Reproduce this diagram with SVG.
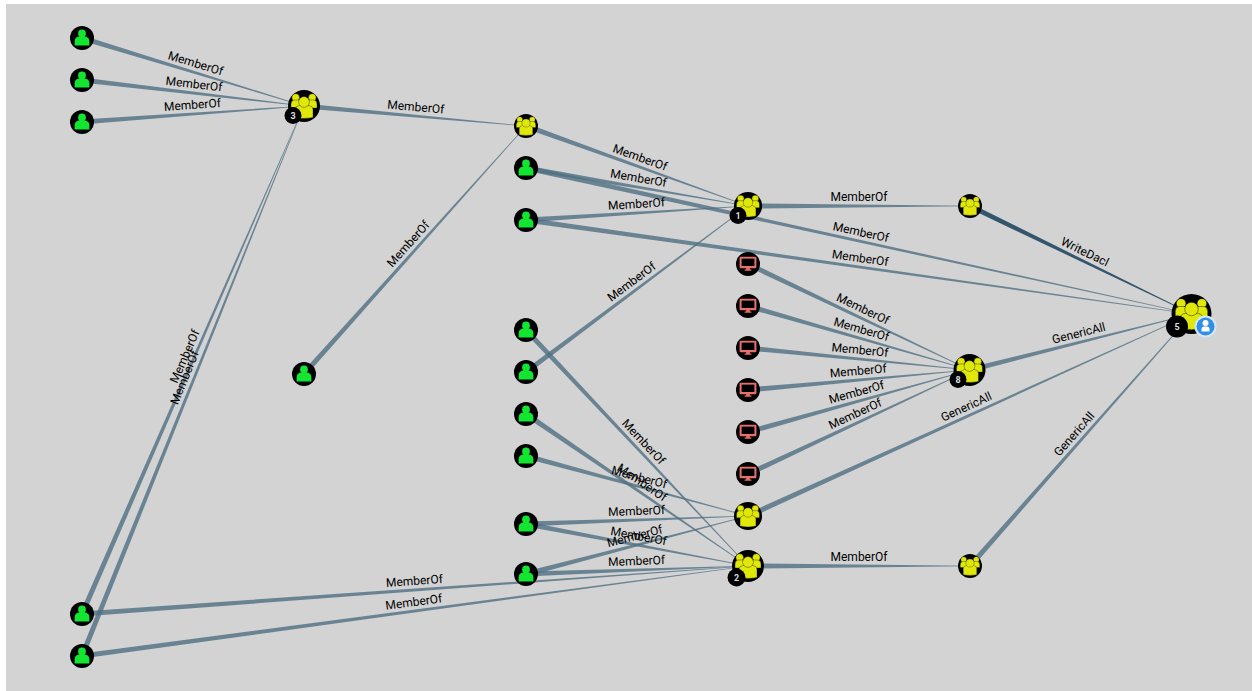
<svg xmlns="http://www.w3.org/2000/svg" xmlns:xlink="http://www.w3.org/1999/xlink" width="1252" height="691" viewBox="0 0 1252 691">
<style>
.e{fill:#4f6f82;fill-opacity:.8}
.d{fill:#34566c}
.l{font:12px Roboto,"Liberation Sans",sans-serif;fill:#000;text-anchor:middle}
.b{fill:#000}
.u{fill:#12e630}
.g{fill:#e0e80a;stroke:#000;stroke-width:.35}
.c{fill:#e8706a}
.n{font:bold 9px Roboto,"Liberation Sans",sans-serif;fill:#ddd;text-anchor:middle}
</style>
<defs>
<g id="user"><circle r="12" class="b"/><circle cy="-4.6" r="3.9" class="u"/><path class="u" d="M-7.4 7v-3.4q0-4.6 4.6-5h5.6q4.6.4 4.6 5V7q0 .6-.6.6H-6.8q-.6 0-.6-.6z"/></g>
<g id="comp"><circle r="12" class="b"/><rect x="-8.4" y="-7.2" width="16.8" height="11.4" rx="1.2" class="c"/><rect x="-6.4" y="-5.4" width="12.8" height="7.4" class="b"/><path class="c" d="M-1.8 4h3.6v1.4h1.6v1.4h-6.800v-1.400h1.600z"/></g>
<g id="grp"><circle r="16" class="b"/><circle cx="-8.300" cy="-8.500" r="3.800" class="g"/><circle cx="8.300" cy="-8.500" r="3.800" class="g"/><path class="g" d="M-13 2v-4q0-3.500 3-4h5l3 6v2zM13 2v-4q0-3.500-3-4h-5l-3 6v2z"/><path class="g" d="M-9 11.500v-8q0-3.500 4-4h10q4 .5 4 4v8q-9 2-18 0z"/><circle cy="-4" r="5.400" class="g"/></g>
</defs>
<rect width="1252" height="691" fill="#fff"/>
<rect x="6" y="4" width="1246" height="687" fill="#d3d3d3"/>
<g id="connectors">
<polygon class="e" points="81.24,40.49 303.93,106.24 304.07,105.76 82.76,35.51"/>
<polygon class="e" points="81.7,82.58 303.97,106.24 304.03,105.76 82.3,77.42"/>
<polygon class="e" points="82.19,124.59 304.02,106.24 303.98,105.76 81.81,119.41"/>
<polygon class="e" points="303.77,108.59 525.98,126.24 526.02,125.76 304.23,103.41"/>
<polygon class="e" points="305.94,375.73 526.18,126.16 525.82,125.84 302.06,372.27"/>
<polygon class="e" points="525.12,128.45 747.92,206.23 748.08,205.77 526.88,123.55"/>
<polygon class="e" points="525.56,170.56 747.96,206.24 748.04,205.76 526.44,165.44"/>
<polygon class="e" points="526.16,222.59 748.02,206.24 747.98,205.76 525.84,217.41"/>
<polygon class="e" points="527.56,374.08 748.14,206.19 747.86,205.81 524.44,369.92"/>
<polygon class="e" points="748,208.6 970,206.24 970,205.76 748,203.4"/>
<polygon class="e" points="525.44,170.54 1191.95,314.24 1192.05,313.76 526.56,165.46"/>
<polygon class="e" points="525.64,222.57 1191.97,314.24 1192.03,313.76 526.36,217.43"/>
<polygon class="d" points="968.86,208.34 1191.9,314.22 1192.1,313.78 971.14,203.66"/>
<polygon class="e" points="746.88,266.35 969.9,370.22 970.1,369.78 749.12,261.65"/>
<polygon class="e" points="747.28,308.5 969.93,370.23 970.07,369.77 748.72,303.5"/>
<polygon class="e" points="747.74,350.59 969.98,370.24 970.02,369.76 748.26,345.41"/>
<polygon class="e" points="748.23,392.59 970.02,370.24 969.98,369.76 747.77,387.41"/>
<polygon class="e" points="748.7,434.5 970.06,370.23 969.94,369.77 747.3,429.5"/>
<polygon class="e" points="749.1,476.35 970.1,370.22 969.9,369.78 746.9,471.65"/>
<polygon class="e" points="970.64,372.52 1192.06,314.23 1191.94,313.77 969.36,367.48"/>
<polygon class="e" points="749.08,518.37 1192.1,314.22 1191.9,313.78 746.92,513.63"/>
<polygon class="e" points="971.95,567.72 1192.18,314.16 1191.82,313.84 968.05,564.28"/>
<polygon class="e" points="748,568.6 970,566.24 970,565.76 748,563.4"/>
<polygon class="e" points="524.11,331.78 747.83,566.16 748.17,565.84 527.89,328.22"/>
<polygon class="e" points="524.53,416.15 747.86,566.2 748.14,565.8 527.47,411.85"/>
<polygon class="e" points="525.32,458.51 747.94,516.23 748.06,515.77 526.68,453.49"/>
<polygon class="e" points="526.09,526.6 748.01,516.24 747.99,515.76 525.91,521.4"/>
<polygon class="e" points="525.52,526.56 747.96,566.24 748.04,565.76 526.48,521.44"/>
<polygon class="e" points="526.66,576.51 748.06,516.23 747.94,515.77 525.34,571.49"/>
<polygon class="e" points="526.09,576.6 748.01,566.24 747.99,565.76 525.91,571.4"/>
<polygon class="e" points="82.19,616.59 748.02,566.24 747.98,565.76 81.81,611.41"/>
<polygon class="e" points="82.35,658.58 748.03,566.24 747.97,565.76 81.65,653.42"/>
<polygon class="e" points="84.38,615.04 304.22,106.1 303.78,105.9 79.62,612.96"/>
<polygon class="e" points="84.41,656.97 304.22,106.09 303.78,105.91 79.59,655.03"/>
</g>
<g id="edge-labels">
<text class="l" y="-5" transform="translate(193,72) rotate(17)">MemberOf</text>
<text class="l" y="-5" transform="translate(193,93) rotate(6.700)">MemberOf</text>
<text class="l" y="-5" transform="translate(193,114) rotate(-4.100)">MemberOf</text>
<text class="l" y="-5" transform="translate(415,116) rotate(5.100)">MemberOf</text>
<text class="l" y="-5" transform="translate(415,250) rotate(-48.200)">MemberOf</text>
<text class="l" y="-5" transform="translate(637,166) rotate(19.800)">MemberOf</text>
<text class="l" y="-5" transform="translate(637,187) rotate(9.700)">MemberOf</text>
<text class="l" y="-5" transform="translate(637,213) rotate(-3.600)">MemberOf</text>
<text class="l" y="-5" transform="translate(637,289) rotate(-36.800)">MemberOf</text>
<text class="l" y="-5" transform="translate(859,206)">MemberOf</text>
<text class="l" y="-5" transform="translate(859,241) rotate(12.400)">MemberOf</text>
<text class="l" y="-5" transform="translate(859,267) rotate(8)">MemberOf</text>
<text class="l" y="-5" transform="translate(1081,260) rotate(25.900)">WriteDacl</text>
<text class="l" y="-5" transform="translate(859,317) rotate(25.500)">MemberOf</text>
<text class="l" y="-5" transform="translate(859,338) rotate(16.100)">MemberOf</text>
<text class="l" y="-5" transform="translate(859,359) rotate(5.700)">MemberOf</text>
<text class="l" y="-5" transform="translate(859,380) rotate(-5.100)">MemberOf</text>
<text class="l" y="-5" transform="translate(859,401) rotate(-15.600)">MemberOf</text>
<text class="l" y="-5" transform="translate(859,422) rotate(-25.100)">MemberOf</text>
<text class="l" y="-5" transform="translate(1081,342) rotate(-14.200)">GenericAll</text>
<text class="l" y="-5" transform="translate(970,415) rotate(-24.500)">GenericAll</text>
<text class="l" y="-5" transform="translate(1081,440) rotate(-48.600)">GenericAll</text>
<text class="l" y="-5" transform="translate(859,566)">MemberOf</text>
<text class="l" y="-5" transform="translate(637,448) rotate(46.800)">MemberOf</text>
<text class="l" y="-5" transform="translate(637,490) rotate(34.400)">MemberOf</text>
<text class="l" y="-5" transform="translate(637,486) rotate(15.100)">MemberOf</text>
<text class="l" y="-5" transform="translate(637,520) rotate(-2.100)">MemberOf</text>
<text class="l" y="-5" transform="translate(637,545) rotate(10.700)">MemberOf</text>
<text class="l" y="-5" transform="translate(637,545) rotate(-14.600)">MemberOf</text>
<text class="l" y="-5" transform="translate(637,570) rotate(-2.100)">MemberOf</text>
<text class="l" y="-5" transform="translate(415,590) rotate(-4.100)">MemberOf</text>
<text class="l" y="-5" transform="translate(415,611) rotate(-7.700)">MemberOf</text>
<text class="l" y="-5" transform="translate(193,360) rotate(-66.400)">MemberOf</text>
<text class="l" y="-5" transform="translate(193,381) rotate(-68)">MemberOf</text>
</g>
<g id="u1"><use xlink:href="#user" href="#user" x="82" y="38"/></g>
<g id="u2"><use xlink:href="#user" href="#user" x="82" y="80"/></g>
<g id="u3"><use xlink:href="#user" href="#user" x="82" y="122"/></g>
<g id="u4"><use xlink:href="#user" href="#user" x="526" y="168"/></g>
<g id="u5"><use xlink:href="#user" href="#user" x="526" y="220"/></g>
<g id="u6"><use xlink:href="#user" href="#user" x="304" y="374"/></g>
<g id="u7"><use xlink:href="#user" href="#user" x="526" y="330"/></g>
<g id="u8"><use xlink:href="#user" href="#user" x="526" y="372"/></g>
<g id="u9"><use xlink:href="#user" href="#user" x="526" y="414"/></g>
<g id="u10"><use xlink:href="#user" href="#user" x="526" y="456"/></g>
<g id="u11"><use xlink:href="#user" href="#user" x="526" y="524"/></g>
<g id="u12"><use xlink:href="#user" href="#user" x="526" y="574"/></g>
<g id="u13"><use xlink:href="#user" href="#user" x="82" y="614"/></g>
<g id="u14"><use xlink:href="#user" href="#user" x="82" y="656"/></g>
<g id="c1"><use xlink:href="#comp" href="#comp" x="748" y="264"/></g>
<g id="c2"><use xlink:href="#comp" href="#comp" x="748" y="306"/></g>
<g id="c3"><use xlink:href="#comp" href="#comp" x="748" y="348"/></g>
<g id="c4"><use xlink:href="#comp" href="#comp" x="748" y="390"/></g>
<g id="c5"><use xlink:href="#comp" href="#comp" x="748" y="432"/></g>
<g id="c6"><use xlink:href="#comp" href="#comp" x="748" y="474"/></g>
<g id="g-a"><use xlink:href="#grp" href="#grp" transform="translate(526,126) scale(.75)"/></g>
<g id="g-b"><use xlink:href="#grp" href="#grp" transform="translate(970,206) scale(.75)"/></g>
<g id="g-d"><use xlink:href="#grp" href="#grp" transform="translate(970,566) scale(.75)"/></g>
<g id="g-c"><use xlink:href="#grp" href="#grp" transform="translate(748,516) scale(.88)"/></g>
<g id="g3"><use xlink:href="#grp" href="#grp" x="304" y="106"/><circle cx="293" cy="115.500" r="8.500" class="b"/><text class="n" x="293" y="118.700">3</text></g>
<g id="g1"><use xlink:href="#grp" href="#grp" transform="translate(748,206) scale(.88)"/><circle cx="738" cy="215.500" r="8.500" class="b"/><text class="n" x="738" y="218.700">1</text></g>
<g id="g8"><use xlink:href="#grp" href="#grp" x="969.500" y="370"/><circle cx="958" cy="379.500" r="8.500" class="b"/><text class="n" x="958" y="382.700">8</text></g>
<g id="g2"><use xlink:href="#grp" href="#grp" x="748" y="566"/><circle cx="736.500" cy="577.500" r="9" class="b"/><text class="n" x="736.500" y="580.700">2</text></g>
<g id="g5"><use xlink:href="#grp" href="#grp" transform="translate(1191.500,314) scale(1.250)"/><circle cx="1177" cy="326.500" r="11" class="b"/><text class="n" x="1177" y="329.700">5</text><circle cx="1205.500" cy="326.500" r="11" fill="#d5e6f6"/><circle cx="1205.500" cy="326.500" r="9" fill="#2f8fe8"/><circle cx="1205.500" cy="323" r="3" fill="#fff"/><path fill="#fff" d="M1201.500 331.500v-2q0-3 2.500-3h3q2.500 0 2.500 3v2z"/></g>
</svg>
